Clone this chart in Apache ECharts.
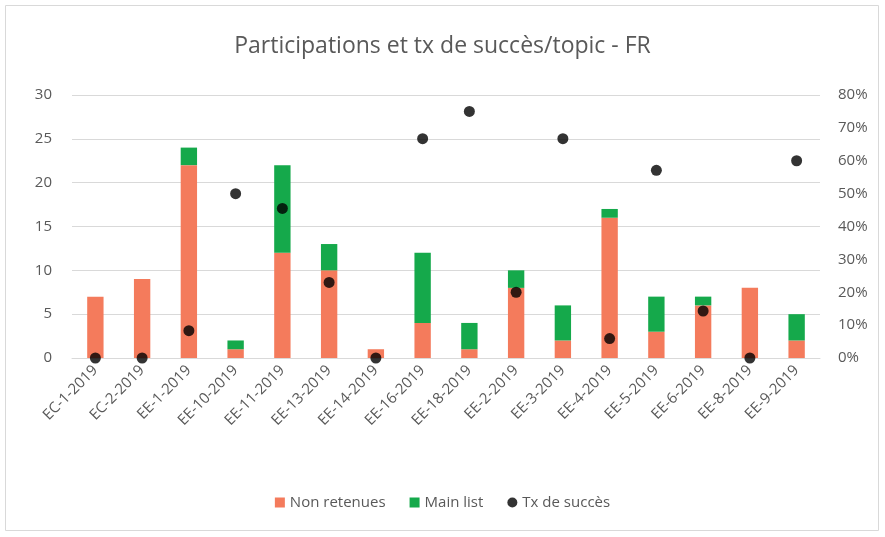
<!DOCTYPE html>
<html><head><meta charset="utf-8">
<script src="https://cdn.jsdelivr.net/npm/echarts@6/dist/echarts.min.js"></script>
<style>html,body{margin:0;padding:0;background:#fff}#c{width:885px;height:537px}</style>
</head><body><div id="c"></div>
<script>
const categories = ['EC-1-2019','EC-2-2019','EE-1-2019','EE-10-2019','EE-11-2019','EE-13-2019','EE-14-2019','EE-16-2019','EE-18-2019','EE-2-2019','EE-3-2019','EE-4-2019','EE-5-2019','EE-6-2019','EE-8-2019','EE-9-2019'];
const nonRetenues = [7, 9, 22, 1, 12, 10, 1, 4, 1, 8, 2, 16, 3, 6, 8, 2];
const mainList = [0, 0, 2, 1, 10, 3, 0, 8, 3, 2, 4, 1, 4, 1, 0, 3];
const txSucces = [0, 0, 0.083, 0.5, 0.455, 0.23, 0, 0.667, 0.75, 0.2, 0.667, 0.059, 0.571, 0.143, 0, 0.6];

const chart = echarts.init(document.getElementById('c'));
const font = 'Open Sans, Noto Sans, sans-serif';
chart.setOption({
  animation: false,
  textStyle: {fontFamily: font},
  graphic: [{type:'rect', shape:{x:5.5,y:5.5,width:873,height:525}, style:{fill:'none', stroke:'#d9d9d9', lineWidth:1}, silent:true}],
  title: {text: 'Participations et tx de succès/topic - FR', left: 'center', top: 30,
    textStyle: {color:'#595959', fontSize: 23, fontWeight: 'normal', fontFamily: font}},
  legend: {bottom: 22, left: 'center', itemWidth: 10, itemHeight: 10, itemGap: 24,
    textStyle: {color:'#595959', fontSize: 15},
    data: [{name:'Non retenues', icon:'rect'}, {name:'Main list', icon:'rect'}, {name:'Tx de succès', icon:'circle'}]},
  grid: {left: 72, right: 65, top: 95, bottom: 179},
  xAxis: {type:'category', data: categories,
    axisLine:{lineStyle:{color:'#d9d9d9'}}, axisTick:{show:false},
    axisLabel:{rotate:45, color:'#595959', fontSize:15, interval:0, margin:10}},
  yAxis: [
    {type:'value', min:0, max:30, interval:5,
      axisLabel:{color:'#595959', fontSize:15, margin:20},
      splitLine:{lineStyle:{color:'#d9d9d9'}}, axisLine:{show:false}, axisTick:{show:false}},
    {type:'value', min:0, max:0.8, interval:0.1, position:'right',
      axisLabel:{color:'#595959', fontSize:15, margin:18, formatter: v => Math.round(v*100)+'%'},
      splitLine:{show:false}, axisLine:{show:false}, axisTick:{show:false}}
  ],
  series: [
    {name:'Non retenues', type:'bar', stack:'s', data: nonRetenues, barWidth:'35%', itemStyle:{color:'#F47B5C'}},
    {name:'Main list', type:'bar', stack:'s', data: mainList, barWidth:'35%', itemStyle:{color:'#15A94B'}},
    {name:'Tx de succès', type:'scatter', yAxisIndex:1, data: txSucces, symbolSize:11, itemStyle:{color:'#000'}}
  ]
});
</script></body></html>
